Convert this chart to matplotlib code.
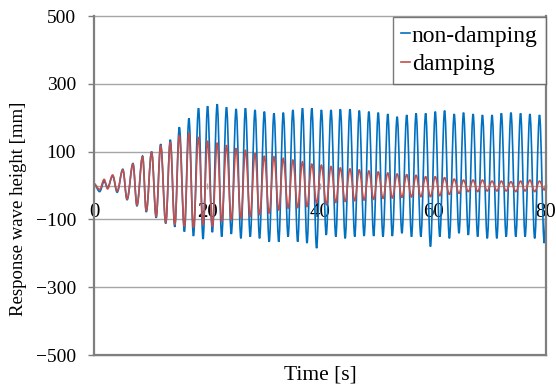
import matplotlib
matplotlib.use("Agg")
import matplotlib.pyplot as plt
from matplotlib.path import Path
from matplotlib.patches import PathPatch
from matplotlib.lines import Line2D

# Extreme points (peaks / troughs)
time_s = [0.0, 1.0, 1.8, 2.4, 3.3, 4.1, 5.1, 5.85, 6.9, 7.6, 8.6, 9.25, 10.2, 11.0,
          11.8, 12.7, 13.5, 14.3, 15.1, 16.0, 16.8, 17.6, 18.5, 19.3, 20.1, 20.95,
          21.8, 22.6, 23.45, 24.3, 25.15, 26.0, 26.8, 27.65, 28.5, 29.3, 30.15, 31.0,
          31.85, 32.7, 33.5, 34.35, 35.2, 36.05, 36.9, 37.7, 38.55, 39.4, 40.25, 41.1,
          41.95, 42.8, 43.6, 44.45, 45.3, 46.15, 46.95, 47.8, 48.65, 49.5, 50.3, 51.15,
          52.0, 52.8, 53.65, 54.5, 55.35, 56.2, 57.0, 57.85, 58.7, 59.55, 60.4, 61.2,
          62.05, 62.9, 63.75, 64.6, 65.4, 66.25, 67.1, 67.9, 68.75, 69.6, 70.45, 71.3,
          72.1, 72.95, 73.8, 74.65, 75.5, 76.3, 77.15, 78.0, 78.85, 79.7, 80.0]

non_damping = [5, -18, 12, -5, 28, -20, 48, -42, 65, -60, 87, -78, 100, -95,
               122, -112, 135, -122, 172, -136, 198, -149, 228, -158, 234, -138,
               240, -151, 231, -143, 226, -156, 228, -151, 223, -156, 218, -166,
               213, -166, 215, -151, 223, -166, 228, -170, 228, -185, 223, -146,
               223, -151, 225, -156, 225, -151, 221, -149, 218, -149, 215, -151,
               211, -149, 203, -141, 208, -151, 213, -151, 213, -180, 218, -151,
               221, -156, 211, -141, 215, -146, 211, -151, 208, -156, 208, -156,
               213, -151, 215, -151, 213, -151, 211, -156, 208, -170, -90]

damping = [5, -12, 18, -10, 31, -16, 46, -40, 63, -58, 85, -75, 98, -92,
           118, -110, 128, -116, 148, -121, 155, -124, 143, -116, 132, -121,
           126, -107, 119, -102, 110, -97, 105, -92, 95, -87, 87, -82,
           85, -72, 80, -67, 75, -65, 70, -62, 63, -52, 60, -55,
           56, -50, 52, -47, 49, -45, 46, -43, 43, -41, 40, -38,
           37, -37, 34, -35, 32, -34, 30, -33, 26, -33, 26, -30,
           23, -26, 19, -23, 16, -18, 16, -18, 16, -16, 13, -16,
           13, -16, 11, -18, 13, -16, 16, -18, 13, -13, 2]

series_names = ["non-damping", "damping"]
series_colors = ["#0070C0", "#C0504D"]

y_ticks = [-500, -300, -100, 100, 300, 500]
x_ticks = [0, 20, 40, 60, 80]

plt.rcParams["font.family"] = ["Liberation Serif", "DejaVu Serif"]


def smooth_path(xs, ys, k=0.364):
    """Curve through the extreme points with horizontal tangents at each extreme."""
    verts = [(xs[0], ys[0])]
    codes = [Path.MOVETO]
    for i in range(1, len(xs)):
        d = (xs[i] - xs[i - 1]) * k
        verts += [(xs[i - 1] + d, ys[i - 1]), (xs[i] - d, ys[i]), (xs[i], ys[i])]
        codes += [Path.CURVE4] * 3
    return Path(verts, codes)


fig = plt.figure(figsize=(5.56, 3.89), dpi=100)
ax = fig.add_axes([94 / 556, 1 - 355 / 389, (546 - 94) / 556, (355 - 16) / 389])

grid_c = "#a6a6a6"
spine_c = "#7f7f7f"

for yv in y_ticks:
    ax.axhline(yv, color=grid_c, lw=1.0, zorder=0, clip_on=False)
ax.axhline(-500, color=spine_c, lw=1.6, zorder=3, clip_on=False)

handles = []
for ys, name, col, z in zip([non_damping, damping], series_names, series_colors, [2, 2.5]):
    patch = PathPatch(smooth_path(time_s, ys), facecolor="none", edgecolor=col,
                      lw=1.2, zorder=z, transform=ax.transData)
    ax.add_patch(patch)
    handles.append(Line2D([], [], color=col, lw=1.2, label=name))

ax.set_xlim(0, 80)
ax.set_ylim(-500, 500)

ax.spines["top"].set_visible(False)
ax.spines["left"].set_color(spine_c)
ax.spines["left"].set_linewidth(1.6)
ax.spines["right"].set_color(spine_c)
ax.spines["right"].set_linewidth(1.6)
ax.spines["bottom"].set_position(("data", 0))
ax.spines["bottom"].set_color(grid_c)
ax.spines["bottom"].set_linewidth(1.0)
ax.spines["bottom"].set_zorder(0)

ax.set_yticks(y_ticks)
ax.set_yticklabels([str(v).replace("-", "\u2212") for v in y_ticks])
ax.set_xticks(x_ticks)
ax.set_xticklabels([str(v) for v in x_ticks])
ax.tick_params(axis="y", direction="out", length=4, width=1, color=spine_c,
               labelsize=14, pad=9)
ax.tick_params(axis="x", direction="inout", length=5, width=1, color=grid_c,
               labelsize=15, pad=10)

fig.text(320 / 556, 1 - 375 / 389, "Time [s]", ha="center", va="center", fontsize=15.5)
fig.text(19 / 556, 1 - 209 / 389, "Response wave height [mm]", ha="center",
         va="center", rotation=90, fontsize=13.5)

leg = ax.legend(handles=handles, loc="upper right", bbox_to_anchor=(1.0, 0.998),
                borderaxespad=0, frameon=True, fancybox=False,
                prop={"family": ["Liberation Serif"], "size": 17},
                handlelength=0.4, handletextpad=0.05, borderpad=0.36,
                labelspacing=0.3)
leg.get_frame().set_edgecolor("#595959")
leg.get_frame().set_linewidth(1.0)

fig.savefig("out.png", dpi=100)
